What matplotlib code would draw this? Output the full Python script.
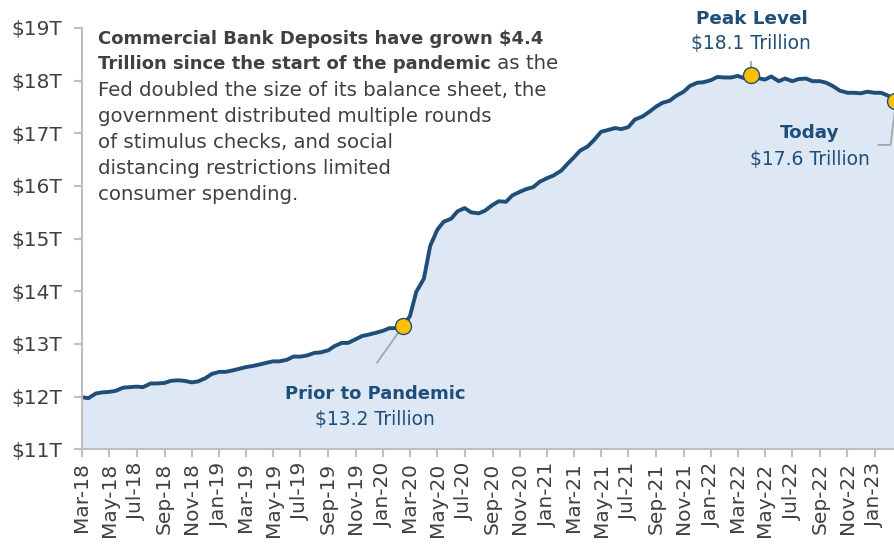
import pandas as pd
import matplotlib.pyplot as plt
import matplotlib.dates as mdates

# semi-monthly readings, Mar-2018 .. Feb-2023 ($ trillions)
dates = pd.date_range("2018-03-01", "2023-02-15", freq="SMS")
deposits = [
    11.99, 11.97, 12.06, 12.08, 12.09, 12.11, 12.17, 12.18, 12.19, 12.18,
    12.25, 12.25, 12.26, 12.30, 12.31, 12.30, 12.27, 12.29, 12.35, 12.43,
    12.47, 12.47, 12.50, 12.53, 12.56, 12.58, 12.61, 12.64, 12.67, 12.67,
    12.70, 12.76, 12.76, 12.78, 12.83, 12.84, 12.88, 12.96, 13.02, 13.02,
    13.09, 13.15, 13.18, 13.21, 13.25, 13.30, 13.30, 13.35, 13.53, 13.99,
    14.24, 14.86, 15.17, 15.32, 15.38, 15.52, 15.58, 15.50, 15.48, 15.53,
    15.64, 15.71, 15.70, 15.82, 15.89, 15.94, 15.98, 16.08, 16.15, 16.20,
    16.29, 16.42, 16.54, 16.67, 16.75, 16.87, 17.03, 17.06, 17.10, 17.08,
    17.12, 17.26, 17.32, 17.40, 17.51, 17.58, 17.62, 17.71, 17.79, 17.90,
    17.96, 17.97, 18.01, 18.07, 18.06, 18.06, 18.09, 18.05, 18.11, 18.05,
    18.02, 18.08, 17.99, 18.04, 17.99, 18.03, 18.04, 17.99, 17.99, 17.96,
    17.89, 17.81, 17.77, 17.77, 17.76, 17.79, 17.77, 17.77, 17.71, 17.61,
]
yticks = [11, 12, 13, 14, 15, 16, 17, 18, 19]

# highlighted points: prior to pandemic, peak, today
idx_prior = 47
idx_peak = 98
idx_today = len(deposits) - 1

navy = "#1f4e79"
grey_txt = "#404040"
axis_grey = "#bfbfbf"
lead_grey = "#a6a6a6"

plt.rcParams["font.family"] = ["DejaVu Sans"]

fig = plt.figure(figsize=(8.95, 5.51), dpi=100)
ax = fig.add_axes([0.0916, 0.1846, 0.9084, 0.7646])

ax.fill_between(dates, deposits, 11, color="#dde8f4", lw=0)
ax.plot(dates, deposits, color=navy, lw=2.8, solid_joinstyle="round")

for i in (idx_prior, idx_peak, idx_today):
    ax.plot(dates[i], deposits[i], "o", ms=11.5, mfc="#ffc000", mec=navy,
            mew=1.0, zorder=5, clip_on=False)

ax.set_xlim(dates[0], dates[-1])
ax.set_ylim(11, 19)
ax.set_yticks(yticks)
ax.set_yticklabels([f"${v}T" for v in yticks])

ax.xaxis.set_major_locator(mdates.MonthLocator(bymonth=[1, 3, 5, 7, 9, 11]))
ax.xaxis.set_major_formatter(mdates.DateFormatter("%b-%y"))
plt.setp(ax.get_xticklabels(), rotation=90)

for s in ("top", "right"):
    ax.spines[s].set_visible(False)
for s in ("left", "bottom"):
    ax.spines[s].set_color(axis_grey)
    ax.spines[s].set_linewidth(1.5)
ax.tick_params(axis="both", colors=axis_grey, labelcolor=grey_txt,
               labelsize=14.5, length=6, width=1.5)
ax.tick_params(axis="y", pad=8)

# annotations
ax.annotate("", xy=(dates[idx_prior], deposits[idx_prior]),
            xytext=(dates[idx_prior - 4], 12.6),
            arrowprops=dict(arrowstyle="-", color=lead_grey, lw=1.3))
ax.text(dates[43], 12.05, "Prior to Pandemic", color=navy, fontsize=13,
        fontweight="bold", ha="center", va="center")
ax.text(dates[43], 11.57, "$13.2 Trillion", color=navy, fontsize=13.5,
        ha="center", va="center")

ax.plot([dates[idx_peak], dates[idx_peak]], [18.17, 18.36], color=lead_grey, lw=1.3)
ax.text(dates[idx_peak], 19.18, "Peak Level", color=navy, fontsize=13.2,
        fontweight="bold", ha="center", va="center", clip_on=False)
ax.text(dates[idx_peak], 18.7, "$18.1 Trillion", color=navy, fontsize=13.5,
        ha="center", va="center")

ax.plot([dates[116] + pd.Timedelta(days=8), dates[118] + pd.Timedelta(days=4),
         dates[idx_today]],
        [16.78, 16.78, 17.45], color=lead_grey, lw=1.3, clip_on=False)
ax.text(dates[106] + pd.Timedelta(days=8), 17.0, "Today", color=navy,
        fontsize=13.2, fontweight="bold", ha="center", va="center")
ax.text(dates[106] + pd.Timedelta(days=8), 16.5, "$17.6 Trillion", color=navy,
        fontsize=13.5, ha="center", va="center")

# description block
bold = dict(color=grey_txt, fontsize=13, fontweight="bold", va="center")
body = dict(color=grey_txt, fontsize=14.2, va="center")
fig.text(0.1095, 0.930, "Commercial Bank Deposits have grown $4.4", **bold)
t2 = fig.text(0.1095, 0.884, "Trillion since the start of the pandemic", **bold)
ax.annotate(" as the", xy=(1, 0.5), xycoords=t2, ha="left", va="center",
            color=grey_txt, fontsize=14.2, annotation_clip=False)
rest = ["Fed doubled the size of its balance sheet, the",
        "government distributed multiple rounds",
        "of stimulus checks, and social",
        "distancing restrictions limited",
        "consumer spending."]
for k, line in enumerate(rest):
    fig.text(0.1095, 0.836 - k * 0.0472, line, **body)

fig.savefig("out.png", dpi=100)
